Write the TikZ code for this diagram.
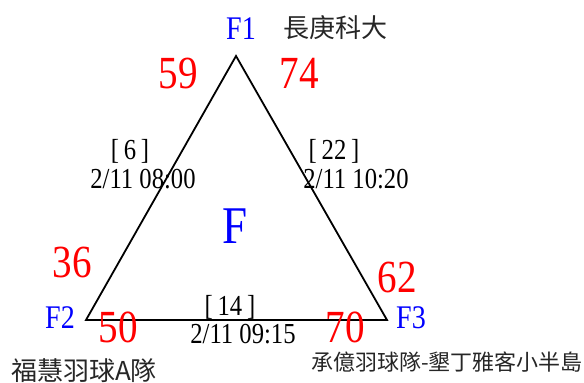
\documentclass[tikz,border=0pt]{standalone}
\usepackage{fontspec}
\setmainfont{Liberation Serif}[FakeStretch=0.85]
\newfontfamily\cjk{Noto Sans CJK TC}
\usepackage{tikz}
\usetikzlibrary{positioning,calc}
\usepackage{xcolor}
\definecolor{teamblue}{RGB}{0,0,255}
\definecolor{scorered}{RGB}{255,0,0}

\tikzset{
  vertexlbl/.style={text=teamblue, inner sep=0pt, anchor=base, font=\fontsize{33}{36}\selectfont},
  scorelbl/.style={text=scorered, inner sep=0pt, anchor=base, font=\fontsize{46}{50}\selectfont},
  matchlbl/.style={inner sep=0pt, anchor=base, font=\fontsize{29}{32}\selectfont},
  teamlbl/.style={inner sep=0pt, text=black!85}
}

\begin{document}
\begin{tikzpicture}[x=1pt, y=-1pt]
\useasboundingbox (0,0) rectangle (584,383);
% triangle of group F
\coordinate (F1) at (236,56);
\coordinate (F2) at (86,320);
\coordinate (F3) at (387,320);
\draw[line width=1.8pt, line join=miter] (F1) -- (F2) -- (F3) -- cycle;

% group and team slots
\node[vertexlbl, font=\fontsize{53}{56}\selectfont] (grp) at (235,243) {F};
\node[vertexlbl] (f1lbl) at (241,39) {F1};
\node[vertexlbl] (f2lbl) at (60,328) {F2};
\node[vertexlbl] (f3lbl) at (411,328) {F3};

% team names
\node[teamlbl, font=\cjk\fontsize{26}{28}\selectfont] (team1) at (335,28) {長庚科大};
\node[teamlbl, font=\cjk\fontsize{26}{28}\selectfont] (team2) at (84,371) {福慧羽球A隊};
\node[teamlbl, font=\cjk\fontsize{22}{24}\selectfont] (team3) at (447,362) {承億羽球隊-墾丁雅客小半島};

% scores
\node[scorelbl] (s12a) at (178,88) {59};
\node[scorelbl] (s13a) at (299,88) {74};
\node[scorelbl] (s12b) at (72,277) {36};
\node[scorelbl] (s23a) at (118,342) {50};
\node[scorelbl] (s13b) at (397,292) {62};
\node[scorelbl] (s23b) at (345,342) {70};

% matches
\node[matchlbl] (m12no) at (130,159) {[\,6\,]};
\node[matchlbl] (m12t) at (143,188) {2/11 08:00};
\node[matchlbl] (m13no) at (334,159) {[\,22\,]};
\node[matchlbl] (m13t) at (356,188) {2/11 10:20};
\node[matchlbl] (m23no) at (230,315) {[\,14\,]};
\node[matchlbl] (m23t) at (243,343) {2/11 09:15};
\end{tikzpicture}
\end{document}
